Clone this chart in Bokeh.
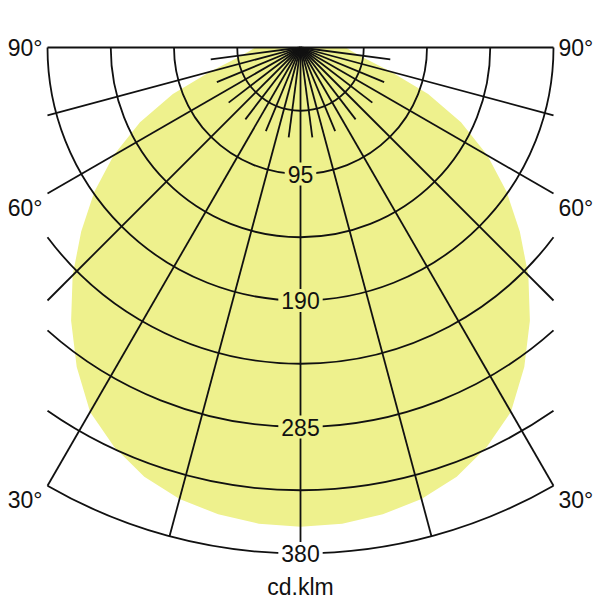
import numpy as np
from bokeh.plotting import figure
from bokeh.models import Label
from bokeh.embed import file_html
from bokeh.resources import INLINE

# ---------------- data ----------------
# luminous intensity (cd/klm) vs angle from nadir (deg), symmetric
angles_deg = [0, 5, 10, 15, 20, 25, 30, 35, 40, 45, 50, 55, 60, 65, 70, 75, 80, 85, 90]
intensity = [360, 359, 356, 351, 343, 331, 316, 293, 268, 242, 215, 189, 162, 133, 102, 70, 50, 40, 34]

ring_values = [47.5, 95, 142.5, 190, 237.5, 285, 332.5, 380]
ring_labels = ["95", "190", "285", "380"]
ring_label_values = [95, 190, 285, 380]
angle_label_values = [90, 60, 30]
angle_labels = ["90°", "60°", "30°"]
unit_label = "cd.klm"

major_angles = list(range(-90, 91, 15))
minor_angles = [a + 7.5 for a in range(-90, 90, 15)]

FILL = "#eef18d"
LINE = "#111111"
FONT = "Liberation Sans"
FS = "23px"
LW = 1.8

# ---------------- geometry ----------------
W = H = 600
R = ring_values[-1]
HALF = ring_values[3]          # grid clipped to |x| <= HALF
S = 506.0 / R                  # px per unit
cx_px, cy_px = 300, 47         # centre in frame pixels
x_range = (-cx_px / S, (W - cx_px) / S)
y_top = cy_px / S
y_range = (y_top - H / S, y_top)

p = figure(width=W, height=H, x_range=x_range, y_range=y_range,
           x_axis_type=None, y_axis_type=None, toolbar_location=None,
           output_backend="svg", min_border=0, outline_line_color=None)
p.grid.visible = False

# light distribution fill
full_ang = [-a for a in angles_deg[::-1]] + angles_deg[1:]
full_int = intensity[::-1] + intensity[1:]
th = np.radians(full_ang)
fi = np.array(full_int, dtype=float)
p.patch(fi * np.sin(th), -fi * np.cos(th), fill_color=FILL, line_color=None)

# rings
for r in ring_values:
    tmax = np.arcsin(min(1.0, HALF / r))
    p.arc(x=0, y=0, radius=r, start_angle=-np.pi / 2 - tmax,
          end_angle=-np.pi / 2 + tmax, line_color=LINE, line_width=LW)

# radial lines
def end_len(a):
    s = abs(np.sin(np.radians(a)))
    return R if s < 1e-9 else min(R, HALF / s)

x1 = [end_len(a) * np.sin(np.radians(a)) for a in major_angles]
y1 = [-end_len(a) * np.cos(np.radians(a)) for a in major_angles]
p.segment(x0=[0] * len(x1), y0=[0] * len(y1), x1=x1, y1=y1,
          line_color=LINE, line_width=LW)

MINOR_LEN = 68
mx1 = [MINOR_LEN * np.sin(np.radians(a)) for a in minor_angles]
my1 = [-MINOR_LEN * np.cos(np.radians(a)) for a in minor_angles]
p.segment(x0=[0] * len(mx1), y0=[0] * len(my1), x1=mx1, y1=my1,
          line_color=LINE, line_width=LW)

# ring labels
for txt, v in zip(ring_labels, ring_label_values):
    bg = FILL if v <= intensity[0] else "white"
    p.add_layout(Label(x=0, y=-v, text=txt, text_align="center",
                       text_baseline="middle", text_font=FONT,
                       text_font_size=FS, text_color=LINE,
                       background_fill_color=bg, padding=3))

# angle labels
gap = 5 / S
for txt, a in zip(angle_labels, angle_label_values):
    if a >= 90:
        yy = 0
    else:
        yy = -HALF / np.tan(np.radians(a)) - 14 / S
    p.add_layout(Label(x=-HALF - gap, y=yy, text=txt, text_align="right",
                       text_baseline="middle", text_font=FONT,
                       text_font_size=FS, text_color=LINE))
    p.add_layout(Label(x=HALF + gap, y=yy, text=txt, text_align="left",
                       text_baseline="middle", text_font=FONT,
                       text_font_size=FS, text_color=LINE))

p.add_layout(Label(x=0, y=-(R + 25), text=unit_label, text_align="center",
                   text_baseline="middle", text_font=FONT,
                   text_font_size=FS, text_color=LINE))

open("out.html", "w").write(file_html(p, INLINE))
